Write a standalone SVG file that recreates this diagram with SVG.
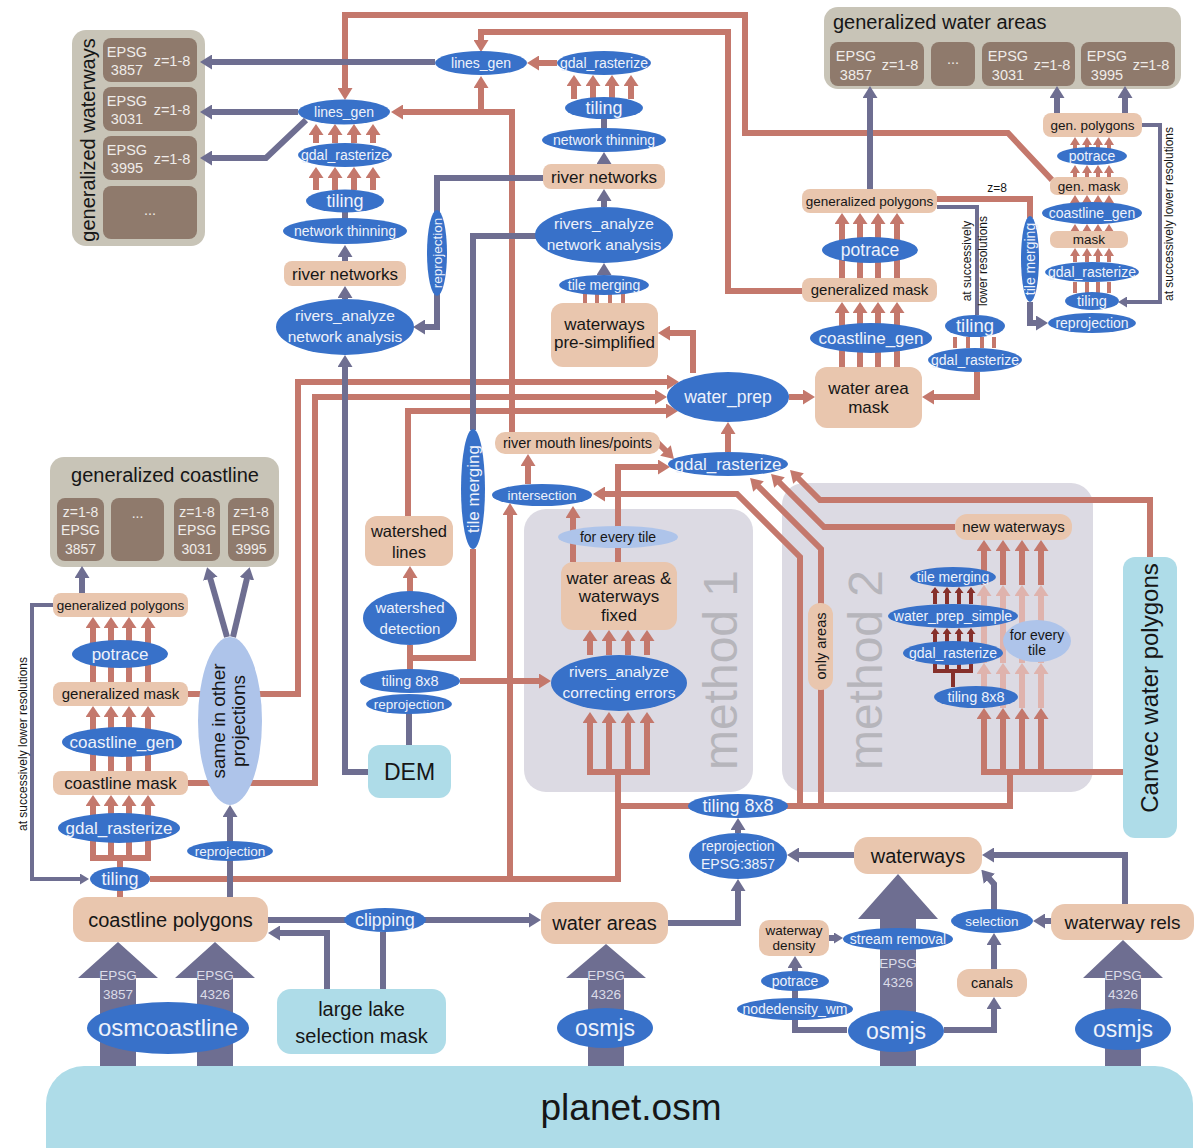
<svg xmlns="http://www.w3.org/2000/svg" width="1195" height="1148" viewBox="0 0 1195 1148">
<defs>
<style>
text{font-family:"Liberation Sans",Arial,sans-serif;text-anchor:middle}
.e{fill:#3871c9}.p{fill:#e9c6ae}.lb{fill:#aedce8}.pw{fill:#aec4ea}.gc{fill:#c8c4b7}.bx{fill:#8f7a6c}.mb{fill:#dcdae3}
.r{stroke:#c4786c;stroke-width:6;fill:none}.r4{stroke:#c4786c;stroke-width:4;fill:none}
.u{stroke:#6e6e91;stroke-width:6;fill:none}.u4{stroke:#6e6e91;stroke-width:4;fill:none}
.pk{stroke:#dfb3ad;stroke-width:6;fill:none}.dr{stroke:#86302b;stroke-width:4;fill:none}
.big{fill:#6e6e91}
.tw{fill:#eef2fb}.tk{fill:#161616}.tb{fill:#efece9}.ta{fill:#dcdce8}.tm{fill:#b6b5bb}
</style>
<marker id="hr" markerUnits="userSpaceOnUse" viewBox="0 0 12 15" markerWidth="12" markerHeight="15" refX="5" refY="7.5" orient="auto"><path d="M0,0L12,7.5L0,15z" fill="#c4786c"/></marker>
<marker id="hu" markerUnits="userSpaceOnUse" viewBox="0 0 12 15" markerWidth="12" markerHeight="15" refX="5" refY="7.5" orient="auto"><path d="M0,0L12,7.5L0,15z" fill="#6e6e91"/></marker>
<marker id="hu4" markerUnits="userSpaceOnUse" viewBox="0 0 9 11" markerWidth="9" markerHeight="11" refX="3" refY="5.5" orient="auto"><path d="M0,0L9,5.5L0,11z" fill="#6e6e91"/></marker>
<marker id="hb" markerUnits="userSpaceOnUse" viewBox="0 0 11 15" markerWidth="11" markerHeight="15" refX="4" refY="7.5" orient="auto"><path d="M0,0L11,7.5L0,15z" fill="#c4786c"/></marker>
<marker id="hs" markerUnits="userSpaceOnUse" viewBox="0 0 8 10" markerWidth="8" markerHeight="10" refX="3" refY="5" orient="auto"><path d="M0,0L8,5L0,10z" fill="#c4786c"/></marker>
<marker id="hp" markerUnits="userSpaceOnUse" viewBox="0 0 11 15" markerWidth="11" markerHeight="15" refX="4" refY="7.5" orient="auto"><path d="M0,0L11,7.5L0,15z" fill="#dfb3ad"/></marker>
<marker id="hd" markerUnits="userSpaceOnUse" viewBox="0 0 6 9" markerWidth="6" markerHeight="9" refX="2" refY="4.5" orient="auto"><path d="M0,0L6,4.5L0,9z" fill="#86302b"/></marker>
</defs>
<rect width="1195" height="1148" fill="#fff"/>

<g id="method1">
<rect class="mb" x="524" y="509" width="229" height="283" rx="22"/>
<text class="tm" font-size="48" transform="translate(737,670) rotate(-90)">method 1</text>
</g>
<g id="method2">
<rect class="mb" x="782" y="483" width="311" height="309" rx="22"/>
<text class="tm" font-size="48" transform="translate(882,670) rotate(-90)">method 2</text>
</g>

<g id="gen-waterways">
<rect class="gc" x="72" y="30" width="133" height="216" rx="14"/>
<text class="tk" font-size="20" transform="translate(95,140) rotate(-90)">generalized waterways</text>
<rect class="bx" x="103" y="38" width="94" height="44" rx="8"/>
<rect class="bx" x="103" y="87" width="94" height="44" rx="8"/>
<rect class="bx" x="103" y="136" width="94" height="44" rx="8"/>
<rect class="bx" x="103" y="186" width="94" height="53" rx="8"/>
<g class="tb" font-size="14.5">
<text x="127" y="57">EPSG</text><text x="127" y="75">3857</text><text x="172" y="66">z=1-8</text>
<text x="127" y="106">EPSG</text><text x="127" y="124">3031</text><text x="172" y="115">z=1-8</text>
<text x="127" y="155">EPSG</text><text x="127" y="173">3995</text><text x="172" y="164">z=1-8</text>
<text x="150" y="215">...</text>
</g>
</g>

<g id="gen-water-areas">
<rect class="gc" x="824" y="7" width="357" height="82" rx="14"/>
<text class="tk" font-size="20" x="833" y="29" style="text-anchor:start">generalized water areas</text>
<rect class="bx" x="830" y="42" width="94" height="44" rx="8"/>
<rect class="bx" x="931" y="42" width="44" height="44" rx="8"/>
<rect class="bx" x="982" y="42" width="93" height="44" rx="8"/>
<rect class="bx" x="1081" y="42" width="94" height="44" rx="8"/>
<g class="tb" font-size="14.5">
<text x="856" y="61">EPSG</text><text x="856" y="80">3857</text><text x="900" y="70">z=1-8</text>
<text x="953" y="64">...</text>
<text x="1008" y="61">EPSG</text><text x="1008" y="80">3031</text><text x="1052" y="70">z=1-8</text>
<text x="1107" y="61">EPSG</text><text x="1107" y="80">3995</text><text x="1151" y="70">z=1-8</text>
</g>
</g>

<g id="gen-coastline">
<rect class="gc" x="50" y="457" width="229" height="110" rx="14"/>
<text class="tk" font-size="20" x="165" y="482">generalized coastline</text>
<rect class="bx" x="57" y="498" width="47" height="63" rx="8"/>
<rect class="bx" x="111" y="498" width="53" height="63" rx="8"/>
<rect class="bx" x="174" y="498" width="46" height="63" rx="8"/>
<rect class="bx" x="228" y="498" width="46" height="63" rx="8"/>
<g class="tb" font-size="14">
<text x="80.5" y="517">z=1-8</text><text x="80.5" y="535">EPSG</text><text x="80.5" y="554">3857</text>
<text x="137.5" y="518">...</text>
<text x="197" y="517">z=1-8</text><text x="197" y="535">EPSG</text><text x="197" y="554">3031</text>
<text x="251" y="517">z=1-8</text><text x="251" y="535">EPSG</text><text x="251" y="554">3995</text>
</g>
</g>

<g id="connectors">
<!-- big arrows -->
<polygon class="big" points="100,1070 100,978 78,978 118,942 158,978 136,978 136,1070"/>
<polygon class="big" points="197,1070 197,978 175,978 215,942 255,978 233,978 233,1070"/>
<polygon class="big" points="588,1070 588,978 566,978 606,944 646,978 624,978 624,1070"/>
<polygon class="big" points="880,1070 880,919 858,919 898,874 938,919 916,919 916,1070"/>
<polygon class="big" points="1105,1070 1105,978 1083,978 1123,940 1163,978 1141,978 1141,1070"/>
<g class="ta" font-size="13.5">
<text x="118" y="980">EPSG</text><text x="118" y="999">3857</text>
<text x="215" y="980">EPSG</text><text x="215" y="999">4326</text>
<text x="606" y="980">EPSG</text><text x="606" y="999">4326</text>
<text x="898" y="968">EPSG</text><text x="898" y="987">4326</text>
<text x="1123" y="980">EPSG</text><text x="1123" y="999">4326</text>
</g>

<!-- red -->
<g class="r" marker-end="url(#hr)">
<path d="M1052,180L1008,133L745,133L745,15L345,15L345,93"/>
<path d="M803,291L728,291L728,32L481,32L481,45"/>
<path d="M512,433L512,112L398,112"/>
<path d="M481,112L481,83"/>
<path d="M557,63L534,63"/>
<path d="M693,373L693,333L665,333"/>
<path d="M510,879L510,510"/>
<path d="M800,806L800,557L737,494L600,494"/>
<path d="M821,806L821,549L755,483"/>
<path d="M955,527L824,527L776,479"/>
<path d="M1150,557L1150,500L820,500L795,475"/>
<path d="M460,681L544,681"/>
<path d="M410,592L410,573"/>
<path d="M408,516L408,411L671,411"/>
<path d="M188,694L298,694L298,382L672,382"/>
<path d="M188,783L315,783L315,397L660,397"/>
<path d="M528,484L528,461"/>
<path d="M655,440L669,454"/>
<path d="M618,562L618,467L663,467"/>
<path d="M573,562L573,513"/>
<path d="M728,452L728,429"/>
<path d="M789,397L808,397"/>
<path d="M977,372L977,397L929,397"/>
</g>
<g class="r">
<path d="M150,879L618,879L618,772"/>
<path d="M618,806L1010,806L1010,772"/>
<path d="M587,772L650,772"/>
<path d="M981,772L1123,772"/>
<path d="M90,858L151,858M120,858L120,868M120,897L120,890"/>
<path d="M410,670L410,645M410,658L473,658L473,549"/>
<path d="M937,199L1030,199L1030,218"/>
</g>
<g class="r4">
<path d="M585,303L585,294M597,303L597,294M610,303L610,294M623,303L623,294"/>
<path d="M955,337L955,348M968,337L968,348M982,337L982,348M994,337L994,348"/>
<path d="M1075,293L1075,282M1087,293L1087,282M1098,293L1098,282M1109,293L1109,282"/>
</g>
<!-- bundles -->
<g class="r" marker-end="url(#hb)">
<path d="M574,99L574,82"/><path d="M593,99L593,82"/><path d="M612,99L612,82"/><path d="M631,99L631,82"/>
<path d="M316,143L316,131"/><path d="M335,143L335,131"/><path d="M354,143L354,131"/><path d="M373,143L373,131"/>
<path d="M316,190L316,174"/><path d="M335,190L335,174"/><path d="M354,190L354,174"/><path d="M373,190L373,174"/>
<path d="M93,858L93,802"/><path d="M111,858L111,802"/><path d="M129,858L129,802"/><path d="M148,858L148,802"/>
<path d="M93,771L93,713"/><path d="M111,771L111,713"/><path d="M129,771L129,713"/><path d="M148,771L148,713"/>
<path d="M93,682L93,624"/><path d="M111,682L111,624"/><path d="M129,682L129,624"/><path d="M148,682L148,624"/>
<path d="M590,772L590,719"/><path d="M609,772L609,719"/><path d="M628,772L628,719"/><path d="M647,772L647,719"/>
<path d="M590,655L590,637"/><path d="M609,655L609,637"/><path d="M628,655L628,637"/><path d="M647,655L647,637"/>
<path d="M842,367L842,309"/><path d="M860,367L860,309"/><path d="M878,367L878,309"/><path d="M897,367L897,309"/>
<path d="M842,278L842,220"/><path d="M860,278L860,220"/><path d="M878,278L878,220"/><path d="M897,278L897,220"/>
<path d="M984,772L984,715"/><path d="M1003,772L1003,715"/><path d="M1022,772L1022,715"/><path d="M1041,772L1041,715"/>
<path d="M984,585L984,547"/><path d="M1003,585L1003,547"/><path d="M1022,585L1022,547"/><path d="M1041,585L1041,547"/>
</g>
<g class="pk" marker-end="url(#hp)">
<path d="M984,708L984,670"/><path d="M1003,708L1003,670"/><path d="M1022,708L1022,670"/><path d="M1041,708L1041,670"/>
<path d="M984,663L984,592"/><path d="M1003,663L1003,592"/><path d="M1022,663L1022,592"/><path d="M1041,663L1041,592"/>
</g>
<g class="dr" marker-end="url(#hd)">
<path d="M935,642L935,632"/><path d="M947,642L947,632"/><path d="M959,642L959,632"/><path d="M971,642L971,632"/>
<path d="M935,604L935,591"/><path d="M947,604L947,591"/><path d="M959,604L959,591"/><path d="M971,604L971,591"/>
</g>
<path class="dr" d="M935,664L935,671L971,671L971,664M947,664L947,671M959,664L959,671M953,671L953,687"/>
<g class="r4" marker-end="url(#hs)">
<path d="M1075,262L1075,253"/><path d="M1087,262L1087,253"/><path d="M1098,262L1098,253"/><path d="M1109,262L1109,253"/>
<path d="M1075,233L1075,229"/><path d="M1087,233L1087,229"/><path d="M1098,233L1098,229"/><path d="M1109,233L1109,229"/>
<path d="M1075,205L1075,200"/><path d="M1087,205L1087,200"/><path d="M1098,205L1098,200"/><path d="M1109,205L1109,200"/>
<path d="M1075,177L1075,170"/><path d="M1087,177L1087,170"/><path d="M1098,177L1098,170"/><path d="M1109,177L1109,170"/>
<path d="M1075,149L1075,142"/><path d="M1087,149L1087,142"/><path d="M1098,149L1098,142"/><path d="M1109,149L1109,142"/>
</g>

<!-- purple -->
<g class="u" marker-end="url(#hu)">
<path d="M435,62L207,62"/>
<path d="M298,112L207,112"/>
<path d="M306,120L266,158L207,158"/>
<path d="M345,261L345,252"/>
<path d="M345,299L345,293"/>
<path d="M368,772L345,772L345,362"/>
<path d="M604,164L604,159"/>
<path d="M604,207L604,196"/>
<path d="M604,275L604,270"/>
<path d="M543,178L437,178L437,327L420,327"/>
<path d="M227,637L209,574"/>
<path d="M233,637L248,574"/>
<path d="M230,842L230,812"/>
<path d="M82,593L82,573"/>
<path d="M268,920L534,920"/>
<path d="M327,989L327,933L275,933"/>
<path d="M668,923L738,923L738,886"/>
<path d="M738,833L738,825"/>
<path d="M854,855L794,855"/>
<path d="M847,1030L795,1030L795,963"/>
<path d="M944,1030L994,1030L994,1004"/>
<path d="M994,969L994,940"/>
<path d="M994,910L994,884L986,875"/>
<path d="M1051,921L1040,921"/>
<path d="M1125,904L1125,855L989,855"/>
<path d="M870,189L870,93"/>
<path d="M1030,302L1030,323L1041,323"/>
<path d="M1057,113L1057,93"/>
<path d="M1125,113L1125,93"/>
</g>
<path class="u" d="M829,938L837,938" marker-end="url(#hu4)"/>
<g class="u">
<path d="M345,212L345,219"/>
<path d="M604,118L604,128"/>
<path d="M473,430L473,236L536,236"/>
<path d="M409,745L409,713"/>
<path d="M230,897L230,860"/>
<path d="M383,989L383,932"/>
</g>
<g class="u4">
<path d="M53,605L32,605L32,879L83,879" marker-end="url(#hu4)"/>
<path d="M937,207L977,207L977,315"/>
<path d="M1142,125L1160,125L1160,302L1124,302" marker-end="url(#hu4)"/>
</g>
<g class="tk" font-size="12">
<text x="997" y="192">z=8</text>
<text transform="translate(971,261) rotate(-90)">at successively</text>
<text transform="translate(987,261) rotate(-90)">lower resolutions</text>
<text transform="translate(1173,214) rotate(-90)">at successively lower resolutions</text>
<text transform="translate(27,744) rotate(-90)">at successively lower resolutions</text>
</g>
</g>

<!-- nodes: upper-left column -->
<g id="lines_gen_a"><ellipse class="e" cx="344" cy="112" rx="46" ry="12.5"/><text class="tw" font-size="14" x="344" y="117">lines_gen</text></g>
<g id="gdal_a"><ellipse class="e" cx="345" cy="155" rx="47" ry="12"/><text class="tw" font-size="14" x="345" y="160">gdal_rasterize</text></g>
<g id="tiling_a"><ellipse class="e" cx="345" cy="201" rx="39" ry="11.5"/><text class="tw" font-size="18" x="345" y="207">tiling</text></g>
<g id="thin_a"><ellipse class="e" cx="345" cy="231" rx="62" ry="13"/><text class="tw" font-size="14" x="345" y="236">network thinning</text></g>
<g id="rivernet_a"><rect class="p" x="284" y="261" width="122" height="25" rx="8"/><text class="tk" font-size="17" x="345" y="279.5">river networks</text></g>
<g id="ra_a"><ellipse class="e" cx="345" cy="327" rx="69" ry="28"/><text class="tw" font-size="15.5" x="345" y="321">rivers_analyze</text><text class="tw" font-size="15.5" x="345" y="342">network analysis</text></g>

<!-- upper-middle column -->
<g id="lines_gen_b"><ellipse class="e" cx="481" cy="63" rx="46" ry="12"/><text class="tw" font-size="14" x="481" y="68">lines_gen</text></g>
<g id="gdal_b"><ellipse class="e" cx="604" cy="63" rx="47" ry="12"/><text class="tw" font-size="14" x="604" y="68">gdal_rasterize</text></g>
<g id="tiling_b"><ellipse class="e" cx="604" cy="108" rx="39" ry="11"/><text class="tw" font-size="18" x="604" y="114">tiling</text></g>
<g id="thin_b"><ellipse class="e" cx="604" cy="140" rx="62" ry="12"/><text class="tw" font-size="14" x="604" y="145">network thinning</text></g>
<g id="rivernet_b"><rect class="p" x="543" y="164" width="122" height="25" rx="8"/><text class="tk" font-size="17" x="604" y="182.5">river networks</text></g>
<g id="ra_b"><ellipse class="e" cx="604" cy="235" rx="69" ry="28"/><text class="tw" font-size="15.5" x="604" y="229">rivers_analyze</text><text class="tw" font-size="15.5" x="604" y="250">network analysis</text></g>
<g id="tm_b"><ellipse class="e" cx="604" cy="285" rx="45" ry="10"/><text class="tw" font-size="14" x="604" y="290">tile merging</text></g>
<g id="wps"><rect class="p" x="551" y="303" width="107" height="64" rx="12"/><text class="tk" font-size="17" x="604.5" y="330">waterways</text><text class="tk" font-size="17" x="604.5" y="348">pre-simplified</text></g>
<g id="reproj_v"><ellipse class="e" cx="437" cy="253" rx="10" ry="43"/><text class="tw" font-size="13.5" transform="translate(442,253) rotate(-90)">reprojection</text></g>
<g id="tm_v"><ellipse class="e" cx="473" cy="489" rx="12" ry="60"/><text class="tw" font-size="17" transform="translate(479,489) rotate(-90)">tile merging</text></g>

<!-- water areas column -->
<g id="wam"><rect class="p" x="815" y="367" width="107" height="61" rx="12"/><text class="tk" font-size="17" x="868.5" y="394">water area</text><text class="tk" font-size="17" x="868.5" y="413">mask</text></g>
<g id="cg_w"><ellipse class="e" cx="871" cy="338" rx="61" ry="15"/><text class="tw" font-size="17" x="871" y="344">coastline_gen</text></g>
<g id="gm_w"><rect class="p" x="802" y="278" width="135" height="24" rx="8"/><text class="tk" font-size="15" x="869.5" y="295">generalized mask</text></g>
<g id="pt_w"><ellipse class="e" cx="870" cy="250" rx="48" ry="13"/><text class="tw" font-size="17.5" x="870" y="256">potrace</text></g>
<g id="gp_w"><rect class="p" x="802" y="189" width="135" height="24" rx="8"/><text class="tk" font-size="13.5" x="869.5" y="206">generalized polygons</text></g>
<g id="tl_w"><ellipse class="e" cx="975" cy="326" rx="30" ry="11"/><text class="tw" font-size="18.5" x="975" y="332">tiling</text></g>
<g id="gd_w"><ellipse class="e" cx="975" cy="360" rx="47" ry="12"/><text class="tw" font-size="14" x="975" y="365">gdal_rasterize</text></g>
<g id="tm_w"><ellipse class="e" cx="1030" cy="259" rx="9" ry="43"/><text class="tw" font-size="14" transform="translate(1035,259) rotate(-90)">tile merging</text></g>
<g id="rp_w"><ellipse class="e" cx="1092" cy="323" rx="44" ry="10"/><text class="tw" font-size="14" x="1092" y="328">reprojection</text></g>
<g id="tl_r"><ellipse class="e" cx="1092" cy="301" rx="27" ry="9"/><text class="tw" font-size="14.5" x="1092" y="306">tiling</text></g>
<g id="gd_r"><ellipse class="e" cx="1092" cy="272" rx="47" ry="10"/><text class="tw" font-size="14" x="1092" y="277">gdal_rasterize</text></g>
<g id="mask_r"><rect class="p" x="1050" y="231" width="78" height="17" rx="7"/><text class="tk" font-size="13.5" x="1089" y="244">mask</text></g>
<g id="cg_r"><ellipse class="e" cx="1092" cy="213" rx="50" ry="11"/><text class="tw" font-size="14" x="1092" y="218">coastline_gen</text></g>
<g id="gmask_r"><rect class="p" x="1050" y="177" width="78" height="18" rx="7"/><text class="tk" font-size="13.5" x="1089" y="191">gen. mask</text></g>
<g id="pt_r"><ellipse class="e" cx="1092" cy="156" rx="35" ry="9"/><text class="tw" font-size="14" x="1092" y="161">potrace</text></g>
<g id="gpoly_r"><rect class="p" x="1043" y="113" width="99" height="24" rx="8"/><text class="tk" font-size="13.5" x="1092.5" y="130">gen. polygons</text></g>

<!-- center -->
<g id="water_prep"><ellipse class="e" cx="728" cy="397" rx="61" ry="25"/><text class="tw" font-size="17.5" x="728" y="403">water_prep</text></g>
<g id="gdal_c"><ellipse class="e" cx="728" cy="464" rx="60" ry="12"/><text class="tw" font-size="17" x="728" y="470">gdal_rasterize</text></g>
<g id="river_mouth"><rect class="p" x="495" y="432" width="165" height="22" rx="10"/><text class="tk" font-size="14.5" x="577.5" y="448">river mouth lines/points</text></g>
<g id="intersection"><ellipse class="e" cx="542" cy="495" rx="50" ry="11"/><text class="tw" font-size="13.5" x="542" y="500">intersection</text></g>
<g id="fet1"><ellipse class="pw" cx="618" cy="537" rx="60" ry="11"/><text class="tk" font-size="14" x="618" y="542">for every tile</text></g>
<g id="wafix"><rect class="p" x="561" y="562" width="116" height="68" rx="12"/><text class="tk" font-size="17" x="619" y="584">water areas &amp;</text><text class="tk" font-size="17" x="619" y="602">waterways</text><text class="tk" font-size="17" x="619" y="621">fixed</text></g>
<g id="rac"><ellipse class="e" cx="619" cy="683" rx="68" ry="28"/><text class="tw" font-size="15.5" x="619" y="677">rivers_analyze</text><text class="tw" font-size="15.5" x="619" y="698">correcting errors</text></g>

<!-- DEM area -->
<g id="wsl"><rect class="p" x="365" y="516" width="88" height="50" rx="12"/><text class="tk" font-size="16.5" x="409" y="537">watershed</text><text class="tk" font-size="16.5" x="409" y="558">lines</text></g>
<g id="wsd"><ellipse class="e" cx="410" cy="618" rx="47" ry="27"/><text class="tw" font-size="15" x="410" y="613">watershed</text><text class="tw" font-size="15" x="410" y="634">detection</text></g>
<g id="t88d"><ellipse class="e" cx="410" cy="681" rx="50" ry="12"/><text class="tw" font-size="14.5" x="410" y="686">tiling 8x8</text></g>
<g id="rpd"><ellipse class="e" cx="409" cy="704" rx="43" ry="10"/><text class="tw" font-size="13.5" x="409" y="709">reprojection</text></g>
<g id="dem"><rect class="lb" x="368" y="745" width="83" height="53" rx="12"/><text class="tk" font-size="23" x="409.5" y="779.5">DEM</text></g>

<!-- coastline column -->
<g id="sip"><ellipse class="pw" cx="230" cy="721" rx="32" ry="84"/><text class="tk" font-size="19" transform="translate(225,721) rotate(-90)">same in other</text><text class="tk" font-size="19" transform="translate(245,721) rotate(-90)">projections</text></g>
<g id="gp_c"><rect class="p" x="53" y="593" width="135" height="24" rx="8"/><text class="tk" font-size="13.5" x="120.5" y="610">generalized polygons</text></g>
<g id="pt_c"><ellipse class="e" cx="120" cy="654" rx="48" ry="14"/><text class="tw" font-size="17" x="120" y="660">potrace</text></g>
<g id="gm_c"><rect class="p" x="53" y="682" width="135" height="24" rx="8"/><text class="tk" font-size="15" x="120.5" y="699">generalized mask</text></g>
<g id="cg_c"><ellipse class="e" cx="122" cy="742" rx="60" ry="15"/><text class="tw" font-size="17" x="122" y="748">coastline_gen</text></g>
<g id="cm_c"><rect class="p" x="53" y="771" width="135" height="24" rx="8"/><text class="tk" font-size="17" x="120.5" y="789">coastline mask</text></g>
<g id="gd_c2"><ellipse class="e" cx="119" cy="828" rx="61" ry="15"/><text class="tw" font-size="17" x="119" y="834">gdal_rasterize</text></g>
<g id="tl_c"><ellipse class="e" cx="120" cy="879" rx="30" ry="12"/><text class="tw" font-size="18" x="120" y="885">tiling</text></g>
<g id="rp_c"><ellipse class="e" cx="230" cy="851" rx="43" ry="10"/><text class="tw" font-size="13.5" x="230" y="856">reprojection</text></g>
<g id="coast_poly"><rect class="p" x="73" y="897" width="195" height="45" rx="14"/><text class="tk" font-size="20" x="170.5" y="926.5">coastline polygons</text></g>
<g id="clipping"><ellipse class="e" cx="385" cy="920" rx="41" ry="12"/><text class="tw" font-size="17.5" x="385" y="926">clipping</text></g>
<g id="lake"><rect class="lb" x="277" y="989" width="169" height="65" rx="14"/><text class="tk" font-size="20" x="361.5" y="1016">large lake</text><text class="tk" font-size="20" x="361.5" y="1043">selection mask</text></g>
<g id="osmcoastline"><ellipse class="e" cx="168" cy="1028" rx="81" ry="26"/><text class="tw" font-size="24" x="168" y="1036">osmcoastline</text></g>

<!-- bottom middle/right -->
<g id="water_areas"><rect class="p" x="541" y="902" width="127" height="42" rx="14"/><text class="tk" font-size="20" x="604.5" y="930">water areas</text></g>
<g id="osmjs1"><ellipse class="e" cx="605" cy="1028" rx="48" ry="20"/><text class="tw" font-size="23" x="605" y="1036">osmjs</text></g>
<g id="rpe"><ellipse class="e" cx="738" cy="856" rx="49" ry="23"/><text class="tw" font-size="14" x="738" y="851">reprojection</text><text class="tw" font-size="14" x="738" y="869">EPSG:3857</text></g>
<g id="t88"><ellipse class="e" cx="738" cy="806" rx="50" ry="12"/><text class="tw" font-size="18" x="738" y="812">tiling 8x8</text></g>
<g id="waterways"><rect class="p" x="854" y="837" width="128" height="37" rx="14"/><text class="tk" font-size="20" x="918" y="862.5">waterways</text></g>
<g id="osmjs2"><ellipse class="e" cx="896" cy="1031" rx="48" ry="21"/><text class="tw" font-size="23" x="896" y="1039">osmjs</text></g>
<g id="stream_removal"><ellipse class="e" cx="898" cy="939" rx="55" ry="11"/><text class="tw" font-size="14" x="898" y="944">stream removal</text></g>
<g id="ww_density"><rect class="p" x="759" y="920" width="70" height="36" rx="10"/><text class="tk" font-size="13.5" x="794" y="935">waterway</text><text class="tk" font-size="13.5" x="794" y="950">density</text></g>
<g id="potrace_s"><ellipse class="e" cx="795" cy="981" rx="34" ry="10"/><text class="tw" font-size="14" x="795" y="986">potrace</text></g>
<g id="nodedensity"><ellipse class="e" cx="795" cy="1009" rx="58" ry="11"/><text class="tw" font-size="14" x="795" y="1014">nodedensity_wm</text></g>
<g id="canals"><rect class="p" x="957" y="969" width="70" height="28" rx="12"/><text class="tk" font-size="14.5" x="992" y="988">canals</text></g>
<g id="selection"><ellipse class="e" cx="992" cy="921" rx="41" ry="12"/><text class="tw" font-size="13.5" x="992" y="926">selection</text></g>
<g id="ww_rels"><rect class="p" x="1051" y="904" width="143" height="36" rx="14"/><text class="tk" font-size="19" x="1122.5" y="928.5">waterway rels</text></g>
<g id="osmjs3"><ellipse class="e" cx="1123" cy="1029" rx="48" ry="21"/><text class="tw" font-size="23" x="1123" y="1037">osmjs</text></g>
<g id="canvec"><rect class="lb" x="1123" y="557" width="54" height="281" rx="12"/><text class="tk" font-size="24" transform="translate(1158,688) rotate(-90)">Canvec water polygons</text></g>

<!-- method 2 nodes -->
<g id="new_waterways"><rect class="p" x="955" y="514" width="117" height="26" rx="12"/><text class="tk" font-size="15" x="1013.5" y="532">new waterways</text></g>
<g id="only_areas"><rect class="p" x="808" y="603" width="25" height="87" rx="12"/><text class="tk" font-size="14.5" transform="translate(826,646) rotate(-90)">only areas</text></g>
<g id="tm2"><ellipse class="e" cx="953" cy="577" rx="43" ry="10"/><text class="tw" font-size="14" x="953" y="582">tile merging</text></g>
<g id="wps2"><ellipse class="e" cx="953" cy="616" rx="65" ry="12"/><text class="tw" font-size="14" x="953" y="621">water_prep_simple</text></g>
<g id="gd2"><ellipse class="e" cx="953" cy="653" rx="50" ry="12"/><text class="tw" font-size="14" x="953" y="658">gdal_rasterize</text></g>
<g id="t882"><ellipse class="e" cx="976" cy="697" rx="42" ry="11"/><text class="tw" font-size="14.5" x="976" y="702">tiling 8x8</text></g>
<g id="fet2"><ellipse class="pw" cx="1037" cy="641" rx="34" ry="21"/><text class="tk" font-size="14" x="1037" y="640">for every</text><text class="tk" font-size="14" x="1037" y="655">tile</text></g>

<g id="planet"><rect class="lb" x="46" y="1066" width="1147" height="120" rx="38"/><text class="tk" font-size="37" x="631" y="1120">planet.osm</text></g>
</svg>
